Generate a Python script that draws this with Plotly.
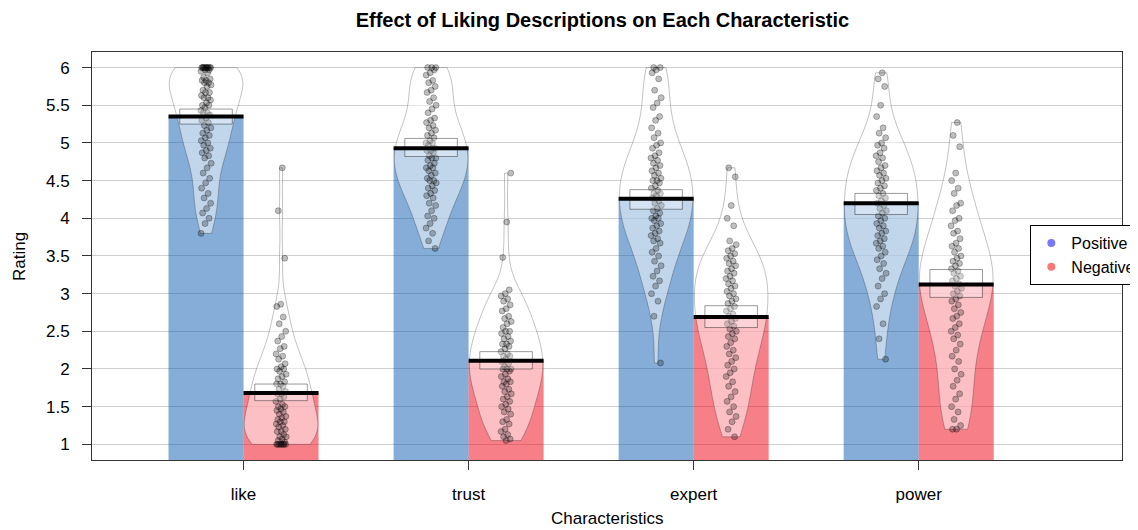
import numpy as np
import plotly.graph_objects as go

categories = ["like", "trust", "expert", "power"]
groups = ["Positive", "Negative"]

means_pos = [5.35, 4.93, 4.26, 4.20]
means_neg = [1.68, 2.11, 2.69, 3.12]
ci_lo_pos = [5.25, 4.82, 4.12, 4.05]
ci_hi_pos = [5.45, 5.06, 4.38, 4.33]
ci_lo_neg = [1.58, 2.00, 2.55, 2.95]
ci_hi_neg = [1.80, 2.23, 2.84, 3.32]

like_pos = [6.0, 6.0, 6.0, 6.0, 6.0, 6.0, 6.0, 6.0, 6.0, 6.0, 5.97, 5.97, 5.95, 5.93,
            5.87, 5.85, 5.83, 5.83, 5.8, 5.8, 5.77, 5.75,
            5.7, 5.67, 5.67, 5.63, 5.6, 5.6, 5.57,
            5.53, 5.5, 5.5, 5.47, 5.43, 5.4, 5.4,
            5.37, 5.33, 5.3, 5.27, 5.23, 5.2,
            5.17, 5.13, 5.1, 5.07, 5.03, 5.0,
            4.97, 4.93, 4.9, 4.87, 4.83, 4.8,
            4.73, 4.67, 4.6, 4.53,
            4.47, 4.4, 4.33,
            4.27, 4.2, 4.13,
            4.07, 4.0, 3.93,
            3.8]
like_neg = [4.67, 4.1, 3.47, 2.86, 2.83, 2.69, 2.6, 2.5,
            2.43, 2.37, 2.3, 2.27, 2.2, 2.17, 2.13,
            2.07, 2.03, 2.0, 2.0, 1.97, 1.93, 1.9, 1.87,
            1.83, 1.8, 1.8, 1.77, 1.73, 1.7, 1.67, 1.67,
            1.63, 1.6, 1.57, 1.53, 1.5, 1.5, 1.47, 1.45,
            1.43, 1.4, 1.37, 1.35, 1.33, 1.3, 1.3, 1.27,
            1.25, 1.23, 1.2, 1.17, 1.17, 1.13, 1.1,
            1.1, 1.07, 1.05, 1.03, 1.0, 1.0, 1.0, 1.0,
            1.0, 1.0, 1.0, 1.0]
trust_pos = [6.0, 6.0, 6.0, 5.97, 5.93, 5.9,
             5.83, 5.8, 5.75, 5.7, 5.67, 5.6, 5.55, 5.5, 5.45,
             5.4, 5.33, 5.3, 5.27, 5.23, 5.2, 5.17, 5.13, 5.1,
             5.07, 5.03, 5.0, 5.0, 4.97, 4.93, 4.9, 4.9, 4.87, 4.83, 4.8, 4.8,
             4.77, 4.73, 4.7, 4.67, 4.67, 4.63, 4.6, 4.57, 4.53,
             4.5, 4.5, 4.47, 4.43, 4.4, 4.37, 4.33, 4.3,
             4.27, 4.2, 4.17, 4.1, 4.03, 4.0,
             3.93, 3.87, 3.8, 3.7, 3.6]
trust_neg = [4.6, 3.95, 3.48,
             3.05, 3.0, 2.97, 2.93, 2.9, 2.85, 2.8, 2.77, 2.7, 2.67, 2.63,
             2.6, 2.55, 2.5, 2.5, 2.47, 2.43, 2.4, 2.37, 2.33, 2.33, 2.3,
             2.27, 2.23, 2.2, 2.17, 2.17, 2.13, 2.1, 2.07, 2.03, 2.0, 2.0, 2.0,
             1.97, 1.93, 1.9, 1.87, 1.83, 1.83, 1.8, 1.77, 1.73, 1.7,
             1.67, 1.63, 1.6, 1.57, 1.53, 1.5, 1.47,
             1.43, 1.4, 1.33, 1.3, 1.27, 1.2,
             1.17, 1.13, 1.1, 1.07, 1.05]
expert_pos = [6.0, 6.0, 5.97, 5.93, 5.85,
              5.7, 5.6, 5.53, 5.47, 5.35, 5.3,
              5.2, 5.13, 5.07, 5.0, 4.97,
              4.93, 4.87, 4.83, 4.8, 4.77, 4.73, 4.7,
              4.67, 4.63, 4.6, 4.57, 4.53, 4.5, 4.5, 4.47,
              4.43, 4.4, 4.37, 4.33, 4.33, 4.3, 4.27, 4.23, 4.2,
              4.17, 4.13, 4.1, 4.07, 4.03, 4.0, 4.0, 3.97,
              3.93, 3.9, 3.87, 3.83, 3.8, 3.77, 3.73,
              3.7, 3.67, 3.6, 3.55, 3.5,
              3.43, 3.37, 3.3, 3.23,
              3.17, 3.1, 3.0,
              2.9, 2.7, 2.08]
expert_neg = [4.67, 4.55, 4.17, 4.0, 3.9,
              3.7, 3.65, 3.6, 3.57, 3.53, 3.5,
              3.47, 3.43, 3.4, 3.37, 3.33, 3.3,
              3.27, 3.23, 3.2, 3.17, 3.13, 3.1, 3.07,
              3.03, 3.0, 2.97, 2.93, 2.9, 2.87, 2.83,
              2.8, 2.77, 2.73, 2.7, 2.67, 2.63, 2.6,
              2.57, 2.53, 2.5, 2.47, 2.43,
              2.4, 2.35, 2.3, 2.25, 2.2,
              2.15, 2.1, 2.05, 2.0,
              1.95, 1.9, 1.83, 1.77,
              1.7, 1.63, 1.57, 1.5,
              1.43, 1.37, 1.3, 1.2, 1.1]
power_pos = [5.93, 5.85, 5.75, 5.5, 5.35,
             5.2, 5.13, 5.07, 5.0, 4.97,
             4.93, 4.87, 4.83, 4.8, 4.75,
             4.7, 4.67, 4.63, 4.6, 4.57, 4.53,
             4.5, 4.47, 4.43, 4.4, 4.37, 4.33, 4.3,
             4.27, 4.23, 4.2, 4.17, 4.13, 4.1, 4.07,
             4.03, 4.0, 3.97, 3.93, 3.9, 3.87, 3.83,
             3.8, 3.77, 3.73, 3.7, 3.67, 3.63,
             3.6, 3.55, 3.5, 3.45, 3.4,
             3.33, 3.27, 3.2,
             3.1, 3.0, 2.93,
             2.83, 2.6, 2.4, 2.13]
power_neg = [5.27, 5.1, 4.95, 4.6, 4.5,
             4.4, 4.33, 4.2, 4.17,
             4.1, 4.0, 3.97, 3.9, 3.83, 3.8,
             3.73, 3.67, 3.63, 3.6, 3.55,
             3.5, 3.47, 3.43, 3.4, 3.37, 3.33,
             3.3, 3.27, 3.23, 3.2, 3.17, 3.13,
             3.1, 3.07, 3.03, 3.0, 2.97, 2.93,
             2.9, 2.85, 2.8, 2.75, 2.7,
             2.67, 2.6, 2.55, 2.5, 2.45,
             2.4, 2.33, 2.25, 2.17,
             2.1, 2.0, 1.93, 1.85,
             1.77, 1.67, 1.6, 1.5,
             1.43, 1.33, 1.25, 1.2, 1.2]

raw_pos = [like_pos, trust_pos, expert_pos, power_pos]
raw_neg = [like_neg, trust_neg, expert_neg, power_neg]

# ---- layout / style ----
FONT = "Liberation Sans, Arial, sans-serif"
bar_cols = {"Positive": "rgba(12,91,176,0.5)", "Negative": "rgba(238,0,17,0.5)"}
leg_cols = {"Positive": "rgb(120,120,250)", "Negative": "rgb(250,120,120)"}
pos_x = [1, 4, 7, 10]
neg_x = [2, 5, 8, 11]
tick_x = [1.5, 4.5, 7.5, 10.5]
BAR_W = 1.0
INF_W = 0.7
JIT = 0.07


def nrd0(v):
    v = np.asarray(v, float)
    sd = v.std(ddof=1)
    iqr = np.subtract(*np.percentile(v, [75, 25]))
    lo = min(sd, iqr / 1.34) if iqr > 0 else sd
    return 0.9 * lo * len(v) ** -0.2


fig = go.Figure()

# bars
for name, xs, ms in [("Positive", pos_x, means_pos), ("Negative", neg_x, means_neg)]:
    fig.add_trace(go.Bar(x=xs, y=ms, width=BAR_W, marker=dict(color=bar_cols[name], line=dict(width=0)),
                         showlegend=False, hoverinfo="skip"))

# beans
for xs, raws in [(pos_x, raw_pos), (neg_x, raw_neg)]:
    for xc, vals in zip(xs, raws):
        fig.add_trace(go.Violin(x0=xc, y=vals, width=0.98, spanmode="hard", bandwidth=nrd0(vals),
                                fillcolor="rgba(255,255,255,0.5)",
                                line=dict(color="rgba(0,0,0,0.3)", width=0.8),
                                points=False, box_visible=False, meanline_visible=False,
                                showlegend=False, hoverinfo="skip", scalemode="width"))

# points
golden = 0.6180339887
for xs, raws in [(pos_x, raw_pos), (neg_x, raw_neg)]:
    for k, (xc, vals) in enumerate(zip(xs, raws)):
        offs = [(((i + 1 + 7 * k) * golden) % 1.0 - 0.5) * 2 * JIT for i in range(len(vals))]
        fig.add_trace(go.Scatter(x=[xc + o for o in offs], y=vals, mode="markers",
                                 marker=dict(size=6, color="rgba(0,0,0,0.25)",
                                             line=dict(color="rgba(0,0,0,0.35)", width=0.8)),
                                 showlegend=False, hoverinfo="skip"))

# inference bands
for xs, lo, hi in [(pos_x, ci_lo_pos, ci_hi_pos), (neg_x, ci_lo_neg, ci_hi_neg)]:
    bx, by = [], []
    for xc, a, b in zip(xs, lo, hi):
        bx += [xc - INF_W / 2, xc + INF_W / 2, xc + INF_W / 2, xc - INF_W / 2, xc - INF_W / 2, None]
        by += [a, a, b, b, a, None]
    fig.add_trace(go.Scatter(x=bx, y=by, mode="lines", fill="toself",
                             fillcolor="rgba(255,255,255,0.3)",
                             line=dict(color="rgba(0,0,0,0.4)", width=1),
                             showlegend=False, hoverinfo="skip"))

# mean lines
for xs, ms in [(pos_x, means_pos), (neg_x, means_neg)]:
    lx, ly = [], []
    for xc, m in zip(xs, ms):
        lx += [xc - BAR_W / 2, xc + BAR_W / 2, None]
        ly += [m, m, None]
    fig.add_trace(go.Scatter(x=lx, y=ly, mode="lines", line=dict(color="black", width=4),
                             showlegend=False, hoverinfo="skip"))

# legend entries
for name in groups:
    fig.add_trace(go.Scatter(x=[None], y=[None], mode="markers", name=name,
                             marker=dict(size=8, color=leg_cols[name])))

fig.update_layout(
    width=1130, height=522,
    margin=dict(l=84, r=16, t=44, b=70, autoexpand=False),
    paper_bgcolor="white", plot_bgcolor="white",
    font=dict(family=FONT, size=17, color="black"),
    title=dict(text="<b>Effect of Liking Descriptions on Each Characteristic</b>",
               x=0.526, xanchor="center", y=0.977, yanchor="middle",
               font=dict(size=20, family=FONT, color="black")),
    violinmode="overlay", barmode="overlay",
    showlegend=True,
    legend=dict(x=0.911, y=0.576, xanchor="left", yanchor="top",
                bgcolor="white", bordercolor="black", borderwidth=1,
                font=dict(size=16, family=FONT, color="black"),
                itemwidth=30, tracegroupgap=0),
    xaxis=dict(range=[-0.52, 13.21], tickvals=tick_x, ticktext=categories,
               showgrid=False, zeroline=False, showline=True, mirror=True,
               linecolor="#333", linewidth=1, ticks="outside", ticklen=9, tickcolor="#333",
               ticklabelstandoff=10, tickfont=dict(size=17)),
    yaxis=dict(range=[0.792, 6.207], tickvals=[1, 1.5, 2, 2.5, 3, 3.5, 4, 4.5, 5, 5.5, 6],
               ticktext=["1", "1.5", "2", "2.5", "3", "3.5", "4", "4.5", "5", "5.5", "6"],
               showgrid=True, gridcolor="#cfcfcf", gridwidth=1, zeroline=False,
               showline=True, mirror=True, linecolor="#333", linewidth=1,
               ticks="outside", ticklen=9, tickcolor="#333",
               ticklabelstandoff=9, tickfont=dict(size=17)),
    annotations=[
        dict(text="Rating", xref="paper", yref="paper", x=-0.0709, y=0.5, textangle=-90,
             showarrow=False, xanchor="center", yanchor="middle", font=dict(size=17)),
        dict(text="Characteristics", xref="paper", yref="paper", x=0.5, y=-0.1446,
             showarrow=False, xanchor="center", yanchor="middle", font=dict(size=17)),
    ],
)

fig.write_html("out.html")
